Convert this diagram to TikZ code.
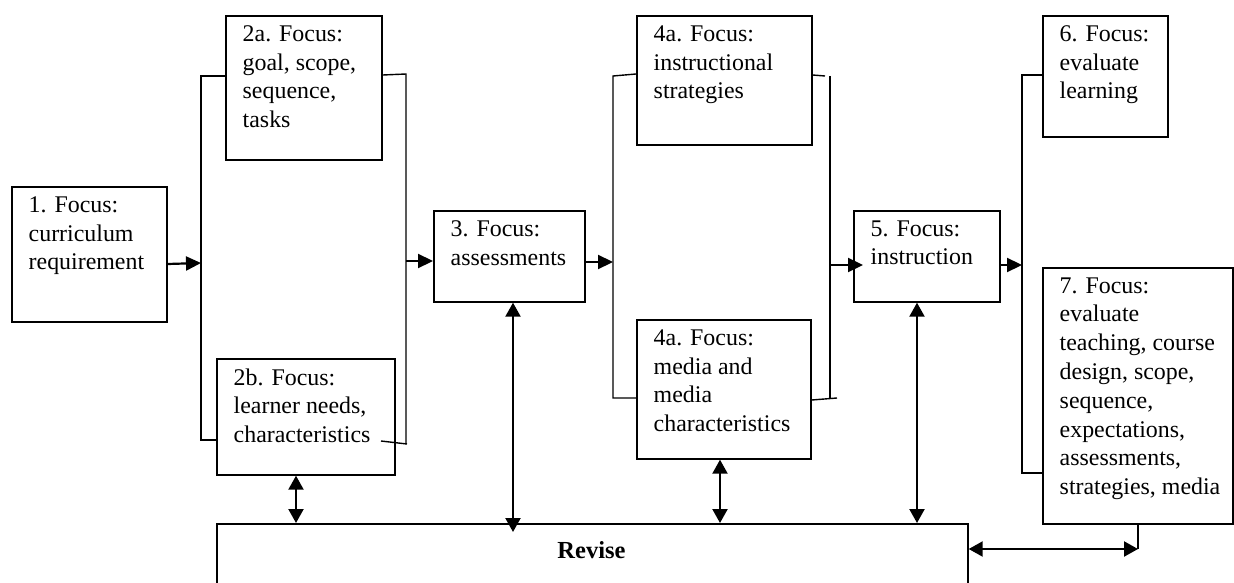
\documentclass[tikz,border=0pt]{standalone}
\usepackage{fontspec}
\setmainfont{Liberation Serif}
\usetikzlibrary{arrows.meta,calc}
\newcommand\tfont{\fontsize{23.9}{28.8}\selectfont}
\tikzset{
  box/.style={draw, line width=1.7pt, inner sep=0pt, anchor=north west},
  txt/.style={font=\tfont, align=left, inner sep=0pt, anchor=north west},
  brk/.style={line width=1.4pt},
  arr/.style={line width=2.2pt, -{Triangle[length=15pt,width=14pt]}},
  darr/.style={line width=2.2pt, {Triangle[length=14pt,width=15pt]}-{Triangle[length=14pt,width=15pt]}}
}
\begin{document}
\begin{tikzpicture}[x=1pt,y=-1pt]
\useasboundingbox (0,0) rectangle (1234,583);
\clip (0,0) rectangle (1234,583);
\fill[white] (0,0) rectangle (1234,583);

% boxes
\node[box, minimum width=155pt, minimum height=135pt] (b1)  at (11,186) {};
\node[box, minimum width=156pt, minimum height=144pt] (b2a) at (225,15) {};
\node[box, minimum width=178pt, minimum height=116pt] (b2b) at (216,358) {};
\node[box, minimum width=151pt, minimum height=91pt]  (b3)  at (433,210) {};
\node[box, minimum width=175pt, minimum height=129pt] (b4a) at (636,15) {};
\node[box, minimum width=174pt, minimum height=139pt] (b4b) at (636,319) {};
\node[box, minimum width=146pt, minimum height=91pt]  (b5)  at (853,210) {};
\node[box, minimum width=125pt, minimum height=121pt] (b6)  at (1042,15) {};
\node[box, minimum width=190pt, minimum height=256pt] (b7)  at (1042,267) {};
\node[box, minimum width=751pt, minimum height=90pt]  (rev) at (216,523) {};

% texts (top of first line = baseline - 16.2)
\node[txt] (t1)  at ($(b1.north west)+(17.5,10.3)$)  {1. Focus:\\curriculum\\requirement};
\node[txt] (t2a) at ($(b2a.north west)+(17.5,10.3)$) {2a. Focus:\\goal, scope,\\sequence,\\tasks};
\node[txt] (t2b) at ($(b2b.north west)+(17.5,10.3)$) {2b. Focus:\\learner needs,\\characteristics};
\node[txt] (t3)  at ($(b3.north west)+(17.5,10.3)$)  {3. Focus:\\assessments};
\node[txt] (t4a) at ($(b4a.north west)+(17.5,10.3)$) {4a. Focus:\\instructional\\strategies};
\node[txt] (t4b) at ($(b4b.north west)+(17.5,10.3)$) {4a. Focus:\\media and\\media\\characteristics};
\node[txt] (t5)  at ($(b5.north west)+(17.5,10.3)$)  {5. Focus:\\instruction};
\node[txt] (t6)  at ($(b6.north west)+(17.5,10.3)$)  {6. Focus:\\evaluate\\learning};
\node[txt] (t7)  at ($(b7.north west)+(17.5,10.3)$)  {7. Focus:\\evaluate\\teaching, course\\design, scope,\\sequence,\\expectations,\\assessments,\\strategies, media};
\node[font=\fontsize{24.5}{29}\selectfont\bfseries, inner sep=0pt, anchor=base] (trev) at (591.5,558) {Revise};

% bracket coordinates
\coordinate (L2t) at (201,76);   \coordinate (L2b) at (201,440);
\coordinate (R2t) at (406,74);   \coordinate (R2b) at (407,444);
\coordinate (S2b) at (381,441);
\coordinate (L4t) at (613,76);   \coordinate (L4b) at (613,398);
\coordinate (R4s) at (825,76);   \coordinate (R4t) at (830,76);
\coordinate (R4b) at (830,398);  \coordinate (R4e) at (837,398);
\coordinate (L6t) at (1022,75);  \coordinate (L6b) at (1022,473);
\coordinate (cr) at (1138,549);

% bracket 2
\draw[brk] (b2a.west |- L2t) -- (L2t) -- (L2b) -- (b2b.west |- L2b);
\draw[brk] (b2a.east |- 0,75) -- (R2t) -- (R2t |- R2b);
\draw[brk] (S2b) -- (R2b);
% bracket 4
\draw[brk] (b4a.west |- 0,74) -- (L4t) -- (L4b) -- (b4b.west |- L4b);
\draw[brk] (b4a.east |- 0,75) -- (R4s);
\draw[brk] (R4t) -- (R4b);
\draw[brk] (b4b.east |- 0,400) -- (R4e);
% bracket 6/7
\draw[brk] (b6.west |- L6t) -- (L6t) -- (L6b) -- (b7.west |- L6b);

% flow arrows
\draw[arr] (b1.east |- 0,264) -- (L2t |- 0,263);
\draw[arr] (R2t |- 0,261) -- (b3.west |- 0,261);
\draw[arr] (b3.east |- 0,262) -- (L4t |- 0,262);
\draw[arr] (R4t |- 0,265) -- ($(b5.west |- 0,265)+(10,0)$);
\draw[arr] (b5.east |- 0,265) -- (L6t |- 0,265);

% revise arrows
\draw[darr] (b2b.south -| 296,0) -- (rev.north -| 296,0);
\draw[darr] (b3.south -| 513,0) -- ($(rev.north -| 513,0)+(0,9)$);
\draw[darr] (b4b.south -| 720,0) -- (rev.north -| 720,0);
\draw[darr] (b5.south -| 917,0) -- (rev.north -| 917,0);
\draw[darr] (rev.east |- cr) -- (cr);
\draw[brk] (cr) -- (b7.south -| cr);
\end{tikzpicture}
\end{document}
